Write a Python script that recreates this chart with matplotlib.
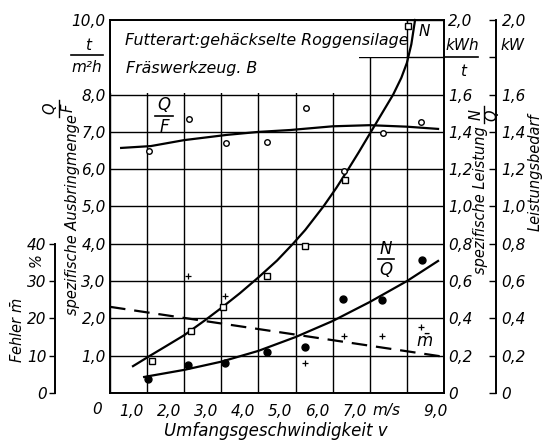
import matplotlib
matplotlib.use("Agg")
import matplotlib.pyplot as plt
from matplotlib.patches import Polygon
from matplotlib.lines import Line2D
from matplotlib.transforms import ScaledTranslation

plt.rcParams["font.family"] = "DejaVu Sans"
plt.rcParams["font.style"] = "italic"
plt.rcParams["mathtext.fontset"] = "dejavusans"
plt.rcParams["mathtext.default"] = "it"

# Q/F  spezifische Ausbringmenge, t/(m2 h)
qf_v = [1.05, 2.13, 3.13, 4.23, 5.28, 7.35, 8.38]
qf_val = [6.5, 7.35, 6.7, 6.73, 7.65, 6.97, 7.27]
qf_fit_v = [0.3, 1.1, 2.0, 3.15, 4.0, 4.85, 6.0, 7.0, 8.0, 8.84]
qf_fit = [6.57, 6.62, 6.78, 6.92, 7.0, 7.05, 7.15, 7.18, 7.14, 7.08]

# N  Leistungsbedarf, kW
n_v = [1.13, 2.18, 3.05, 4.23, 5.26, 6.33, 8.02]
n_val = [0.17, 0.33, 0.46, 0.63, 0.79, 1.14, 1.97]
n_circ_v = [6.3]
n_circ = [1.19]
n_fit_v = [0.62, 1.08, 1.5, 2.0, 2.56, 3.0, 3.5, 4.0, 4.5, 4.93, 5.26, 5.75, 6.1, 6.42,
           6.7, 7.0, 7.3, 7.63, 7.85, 8.0, 8.12, 8.22]
n_fit = [0.144, 0.2, 0.25, 0.31, 0.39, 0.456, 0.535, 0.62, 0.71, 0.8, 0.874, 1.0, 1.1, 1.2,
         1.29, 1.39, 1.49, 1.6, 1.69, 1.77, 1.87, 2.0]

# N/Q  spezifische Leistung, kWh/t
nq_v = [1.03, 2.1, 3.1, 4.23, 5.26, 6.28, 7.33, 8.4]
nq_val = [0.074, 0.15, 0.16, 0.22, 0.246, 0.504, 0.498, 0.714]
nq_fit_v = [0.92, 2.0, 3.0, 4.0, 5.0, 6.0, 7.0, 8.0, 8.84]
nq_fit = [0.086, 0.124, 0.168, 0.226, 0.30, 0.386, 0.488, 0.60, 0.708]

# m  Fehler, %
m_v = [2.1, 3.1, 5.25, 6.3, 7.33, 8.38]
m_val = [31.5, 26.0, 8.0, 15.2, 15.3, 17.7]
m_fit_v = [0.0, 9.0]
m_fit = [23.1, 9.7]

x_ticks = [0, 1, 2, 3, 4, 5, 6, 7, 9]
x_labels = ["", "1,0", "2,0", "3,0", "4,0", "5,0", "6,0", "7,0", "9,0"]
left_labels = ["", "1,0", "2,0", "3,0", "4,0", "5,0", "6,0", "7,0", "8,0", "", "10,0"]
right_ticks = [0, 0.2, 0.4, 0.6, 0.8, 1.0, 1.2, 1.4, 1.6, 1.8, 2.0]
right_labels = ["0", "0,2", "0,4", "0,6", "0,8", "1,0", "1,2", "1,4", "1,6", "", "2,0"]
err_ticks = [0, 10, 20, 30, 40]
err_labels = ["0", "10", "20", "30", "40"]

W, H = 552, 442
FS = 11


def px(x, y):
    return x / W, 1 - y / H


def ftext(x, y, s, **kw):
    kw.setdefault("fontsize", FS)
    kw.setdefault("ha", "center")
    kw.setdefault("va", "center")
    fig.text(*px(x, y), s, **kw)


def fline(x0, y0, x1, y1, lw=1.2):
    a = px(x0, y0)
    b = px(x1, y1)
    fig.add_artist(Line2D([a[0], b[0]], [a[1], b[1]], transform=fig.transFigure,
                          color="black", lw=lw))


fig = plt.figure(figsize=(W / 100, H / 100), dpi=100)
ax = fig.add_axes([110 / W, 49 / H, 334 / W, 373 / H])
ax.set_xlim(0, 9)
ax.set_ylim(0, 10)
ax.set_axisbelow(True)
ax.set_yticks(range(11))
ax.grid(True, color="black", lw=1.0)
ax.set_yticklabels(left_labels, fontsize=FS)
ax.tick_params(length=0, pad=3)
ax.set_xticks(x_ticks)
ax.set_xticks(range(10), minor=True)
ax.grid(True, which="minor", axis="x", color="black", lw=1.0)
ax.set_xticklabels(x_labels, fontsize=FS, ha="right")
ax.tick_params(axis="x", which="both", length=0, pad=8)
for lbl, t in zip(ax.get_xticklabels(), x_ticks):
    dx = 4 if t == 9 else -3
    lbl.set_transform(lbl.get_transform() + ScaledTranslation(dx / 100, 0, fig.dpi_scale_trans))
for s in ax.spines.values():
    s.set_linewidth(1.4)

# white label box in the upper part of the grid
box = Polygon([(0.03, 8.04), (6.7, 8.04), (6.7, 9.0), (7.98, 9.0), (7.98, 9.97), (0.03, 9.97)],
              closed=True, facecolor="white", edgecolor="none", zorder=1)
ax.add_patch(box)

ax.plot(qf_fit_v, qf_fit, color="black", lw=1.6, zorder=3)
ax.plot(qf_v, qf_val, "o", ms=4, mfc="white", mec="black", mew=1.0, zorder=4)

# N/Q axis (right frame)
ax2 = ax.twinx()
ax2.set_ylim(0, 2)
ax2.set_yticks(right_ticks)
ax2.set_yticklabels(right_labels, fontsize=FS)
ax2.tick_params(length=0, pad=3)
for s in ax2.spines.values():
    s.set_visible(False)
ax2.plot(nq_fit_v, nq_fit, color="black", lw=1.6)
ax2.plot(nq_v, nq_val, "o", ms=5, color="black")

# N axis (outer right)
ax4 = ax.twinx()
ax4.set_ylim(0, 2)
for k, s in ax4.spines.items():
    s.set_visible(k == "right")
ax4.spines["right"].set_position(("axes", 386 / 334))
ax4.spines["right"].set_linewidth(1.4)
ax4.set_yticks(right_ticks)
ax4.set_yticklabels(right_labels, fontsize=FS)
ax4.tick_params(direction="in", length=5, width=1.0, pad=4)
ax4.plot(n_fit_v, n_fit, color="black", lw=1.6, clip_on=False)
ax4.plot(n_v, n_val, "s", ms=4, mfc="white", mec="black", mew=1.0)
ax4.plot(n_circ_v, n_circ, "o", ms=4, mfc="white", mec="black", mew=1.0)

# Fehler axis (outer left)
ax3 = ax.twinx()
ax3.set_ylim(0, 100)
for k, s in ax3.spines.items():
    s.set_visible(k == "left")
ax3.spines["left"].set_position(("axes", -55 / 334))
ax3.spines["left"].set_bounds(0, 40)
ax3.spines["left"].set_linewidth(1.4)
ax3.yaxis.set_ticks_position("left")
ax3.set_yticks(err_ticks)
ax3.set_yticklabels(err_labels, fontsize=FS)
ax3.tick_params(direction="out", length=4, width=1.0, pad=2)
ax3.plot(m_fit_v, m_fit, color="black", lw=1.6, dashes=(7, 4))
ax3.plot(m_v, m_val, "+", ms=4, color="black", mew=0.9)

# texts in the box and on the curves
ftext(125, 40, "Futterart:gehäckselte Roggensilage", ha="left", fontsize=11.4)
ftext(126, 68, "Fräswerkzeug. B", ha="left", fontsize=11.4)
ftext(164, 105, "Q", fontsize=12)
fline(155, 116, 173, 116)
ftext(164, 127, "F", fontsize=12)
ftext(424, 31, "N")
ftext(386, 249, "N", fontsize=12)
fline(378, 259, 394, 259)
ftext(386, 270, "Q", fontsize=12)
ftext(425, 342, r"$\bar{m}$", fontsize=12)

# left units and labels
ftext(88, 46, "t")
fline(71, 55, 103, 55)
ftext(87, 68, "m²h")
ftext(72, 215, "spezifische Ausbringmenge", rotation=90, fontsize=10.5)
ftext(50, 108, "Q", rotation=90, fontsize=10.5)
fline(59, 100, 59, 117, lw=1.0)
ftext(68, 108, "F", rotation=90, fontsize=10.5)
ftext(18, 330, r"Fehler $\bar{m}$", rotation=90, fontsize=10.5)
ftext(36, 260, "%", rotation=90, fontsize=10.5)

# right units and labels
ftext(462, 46, "kWh")
fline(445, 57, 478, 57)
ftext(463, 72, "t")
ftext(512, 46, "kW")
ftext(480, 200, "spezifische Leistung", rotation=90, fontsize=10.5)
ftext(476, 115, "N", rotation=90, fontsize=10.5)
fline(484, 106, 484, 123, lw=1.0)
ftext(492, 115, "Q", rotation=90, fontsize=10.5)
ftext(535, 172, "Leistungsbedarf", rotation=90, fontsize=10.5)

# x axis
ftext(97, 410, "0")
ftext(372, 410, "m/s", ha="left")
ftext(276, 431, "Umfangsgeschwindigkeit v", fontsize=12)

fig.savefig("out.png", dpi=100)
